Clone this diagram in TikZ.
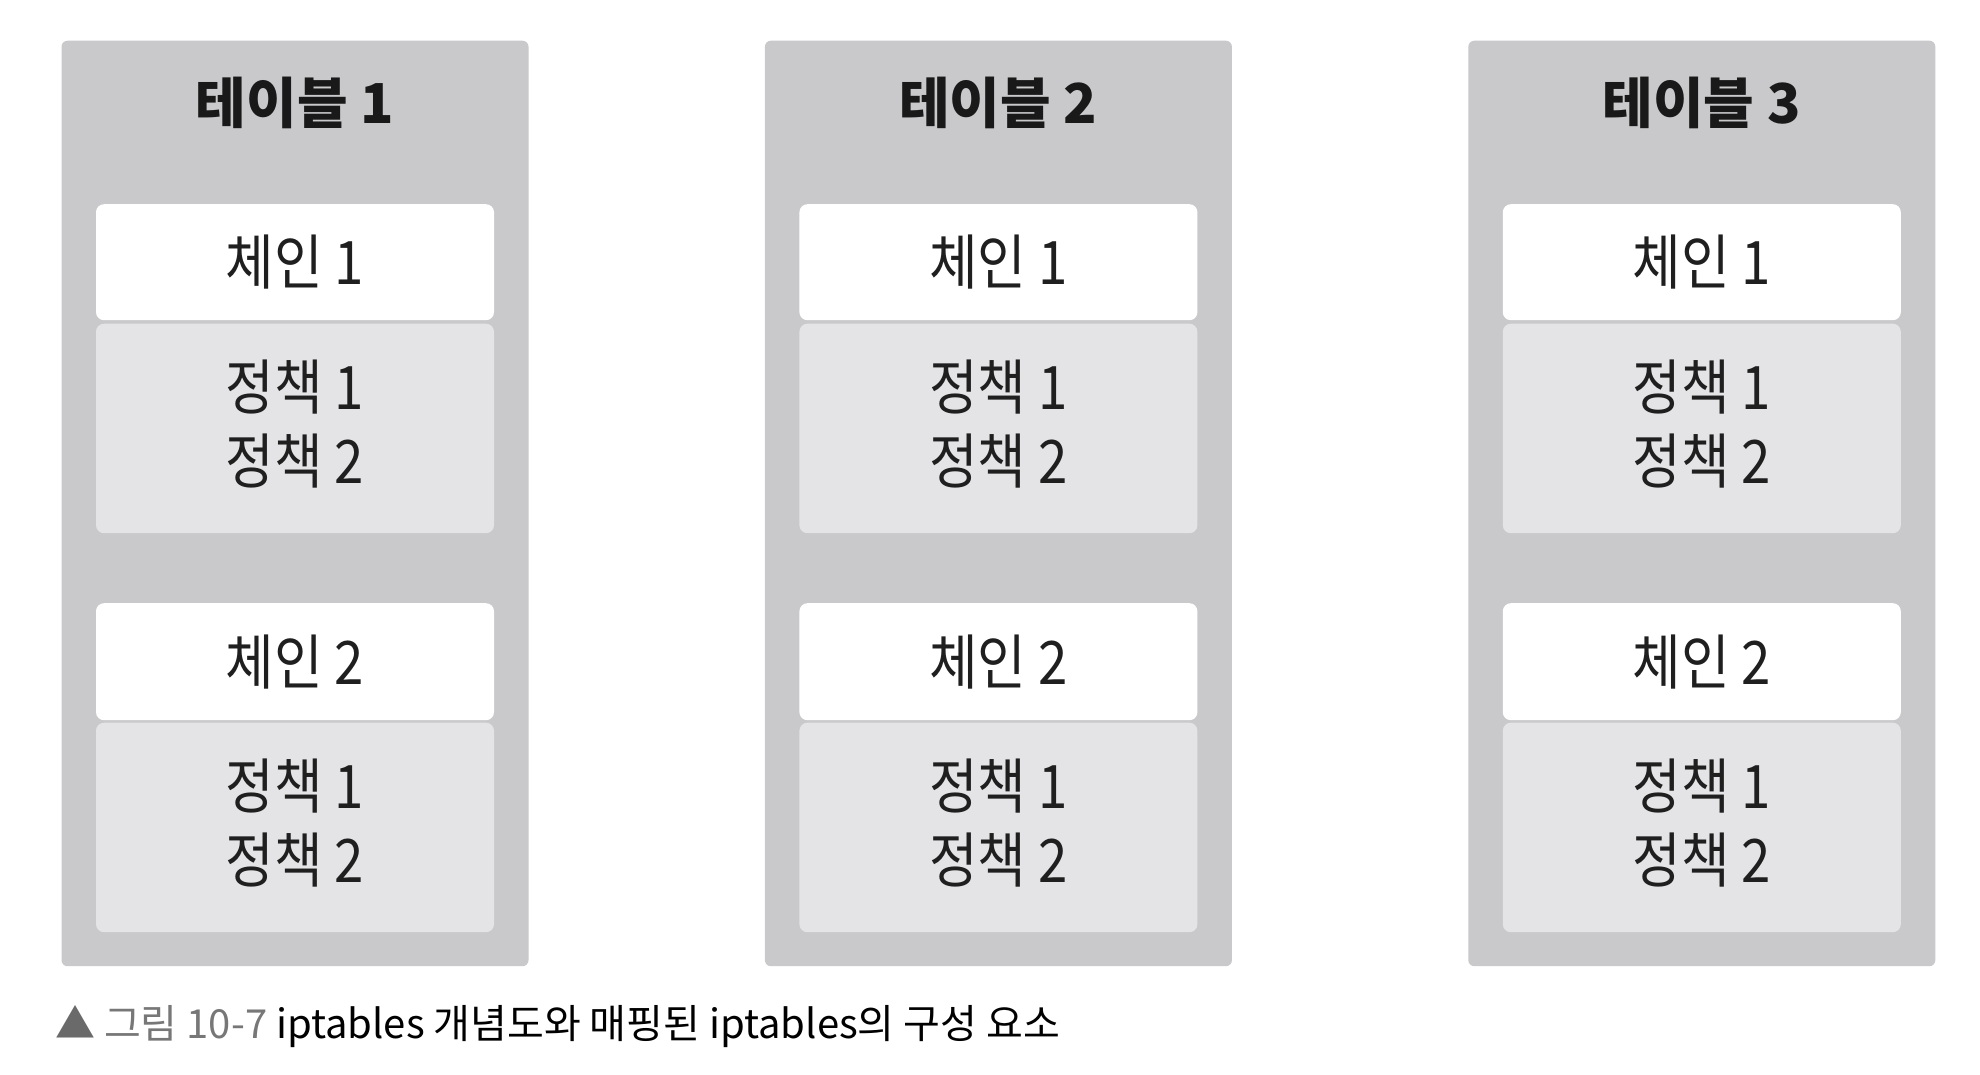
\documentclass[tikz,border=0pt]{standalone}
\usepackage{fontspec}
\setmainfont{Noto Sans CJK KR}
\newfontfamily\krbody[FakeStretch=0.88]{Noto Sans CJK KR}
\newfontfamily\krcap{Noto Sans CJK KR}
\definecolor{tablegray}{HTML}{C9C9CC}
\definecolor{policygray}{HTML}{E4E4E7}
\definecolor{capgray}{HTML}{777777}
\definecolor{trigray}{HTML}{6A6A6A}
\tikzset{
  tablebox/.style={fill=tablegray, draw=none, rounded corners=6pt, minimum width=467pt, minimum height=925.5pt, inner sep=0pt, anchor=north west},
  titletext/.style={font=\bfseries\fontsize{55}{60}\selectfont, text=black!90, inner sep=0pt},
  chainbox/.style={fill=white, draw=none, rounded corners=8pt, minimum width=398pt, minimum height=116pt, inner sep=0pt, anchor=north west, font=\krbody\fontsize{60}{74}\selectfont, text=black!88},
  policybox/.style={fill=policygray, draw=none, rounded corners=8pt, minimum width=398pt, minimum height=209.5pt, inner sep=0pt, anchor=north west},
  policytext/.style={align=center, inner sep=0pt, font=\krbody\fontsize{60}{74}\selectfont, text=black!88},
  captext/.style={font=\krcap\fontsize{40}{44}\selectfont, inner sep=0pt, anchor=west}
}
\begin{document}
\begin{tikzpicture}[x=1pt,y=-1pt]
\useasboundingbox (0,0) rectangle (1980,1074);
\fill[white] (0,0) rectangle (1980,1074);
\foreach \i/\n in {0/1,1/2,2/3} {
  \pgfmathsetmacro\xo{61.3+703.4*\i}
  \node[tablebox] (t\n) at (\xo,40.5) {};
  \node[titletext] (title\n) at (\xo+233.5,103) {테이블 \n};
  \node[chainbox] (ca\n) at (\xo+34.5,204) {체인 1};
  \node[policybox] (pa\n) at (\xo+34.5,323.5) {};
  \node[policytext] (pta\n) at ([yshift=4pt]pa\n.center) {정책 1\\정책 2};
  \node[chainbox, minimum height=117pt] (cb\n) at (\xo+34.5,603) {체인 2};
  \node[policybox] (pb\n) at (\xo+34.5,722.5) {};
  \node[policytext] (ptb\n) at ([yshift=4pt]pb\n.center) {정책 1\\정책 2};
}
\node[captext] (cap) at (55,1027) {{\color{trigray}▲} {\color{capgray}그림 10-7} iptables 개념도와 매핑된 iptables의 구성 요소};
\end{tikzpicture}
\end{document}
